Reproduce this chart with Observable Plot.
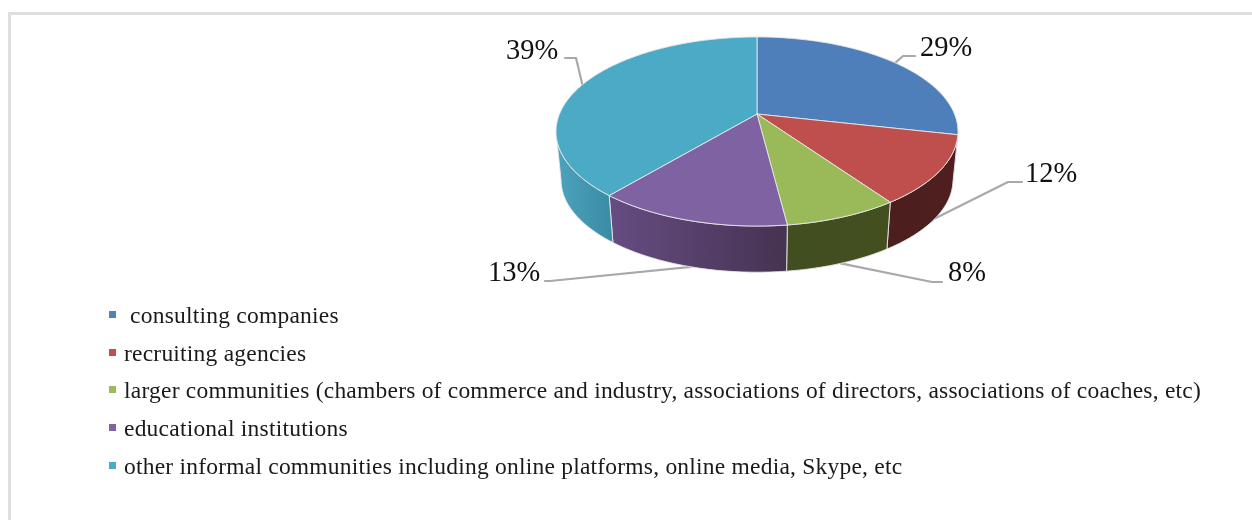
<!DOCTYPE html>
<html>
<head>
<meta charset="utf-8">
<script src="https://cdn.jsdelivr.net/npm/d3@7"></script>
<script src="https://cdn.jsdelivr.net/npm/@observablehq/plot@0.6"></script>
<style>
  html, body { margin: 0; padding: 0; background: #fff; }
  body { width: 1252px; height: 520px; overflow: hidden; position: relative; font-family: "Liberation Serif", serif; }
  #frame { position: absolute; left: 8px; top: 12px; right: -10px; bottom: -10px; border-left: 3px solid #dedede; border-top: 3px solid #dedede; }
  #chart { position: relative; filter: blur(0.35px); }
  #chart svg { display: block; background: transparent; }
  #legend { position: relative; padding-left: 109px; filter: blur(0.35px); }
  .row { height: 37.7px; line-height: 38.7px; font-size: 23.5px; letter-spacing: 0.22px; color: #1a1a1a; white-space: pre; position: relative; padding-left: 15px; }
  .swatch { position: absolute; left: 0; top: 15px; width: 7px; height: 7px; }
</style>
</head>
<body>
<div id="frame"></div>
<div id="chart"></div>
<div id="legend"></div>
<script>
// Data
const categories = [
  " consulting companies",
  "recruiting agencies",
  "larger communities (chambers of commerce and industry, associations of directors, associations of coaches, etc)",
  "educational institutions",
  "other informal communities including online platforms, online media, Skype, etc"
];
const shares = [28.5, 11.8, 7.7, 13.1, 38.9];
const shareLabels = ["29%", "12%", "8%", "13%", "39%"];

// Styles
const topColors = ["#4f7fbb", "#be4f4c", "#9aba59", "#7f62a1", "#4babc6"];
const legendColors = ["#4f81bd", "#c0504d", "#9bbb59", "#8064a2", "#4bacc6"];
const wallStops = [
  ["#2f4d72", "#2f4d72"],
  ["#4b1f1d", "#4e1f1e"],
  ["#414e20", "#444f20"],
  ["#664c82", "#453351"],
  ["#4da3bd", "#3a8ba4"]
];

// Perspective of the disc (units: chart px relative to the pie's hub)
const tilt = {a: 197.5, b: 91.3, k: 0.185, floorScale: 0.975, depth: 49};
const leaderLayout = [
  [[146, -58], [158, -58]],
  [[251, 68], [265, 68]],
  [[175, 168], [185, 168]],
  [[-207, 167], [-212, 167]],
  [[-181, -56], [-192, -56]]
];
const labelLayout = [[189, -67], [294, 59], [210, 158], [-243, 158], [-225, -64]];
const H = 296;

const slices = d3.pie().sort(null)(shares);
const silhouette = Math.PI - Math.acos(tilt.k);   // where the rim turns away from the viewer

function project(theta, floor) {
  const px = Math.sin(theta), py = -Math.cos(theta), d = 1 - tilt.k * py;
  const u = tilt.a * px / d, v = tilt.b * py / d;
  return floor ? [u * tilt.floorScale, v * tilt.floorScale + tilt.depth] : [u, v];
}
function arc(from, to, floor) {
  const n = Math.max(2, Math.ceil(Math.abs(to - from) / (Math.PI / 180)));
  return d3.range(n + 1).map(i => project(from + (to - from) * i / n, floor));
}
const toRow = ([x, y]) => ({x, y});

const topMarks = slices.map((s, i) => {
  const pts = [[0, 0], ...arc(s.startAngle, s.endAngle, false), [0, 0]].map(toRow);
  return Plot.line(pts, {x: "x", y: "y", fill: topColors[i], stroke: "#e8e8e8", strokeWidth: 0.9});
});

const wallMarks = slices.flatMap((s, i) => {
  const a0 = Math.max(s.startAngle, silhouette);
  const a1 = Math.min(s.endAngle, 2 * Math.PI - silhouette);
  if (a1 <= a0) return [];
  const pts = [...arc(a0, a1, false), ...arc(a1, a0, true)];
  pts.push(pts[0]);
  return [Plot.line(pts.map(toRow), {x: "x", y: "y", fill: `url(#wall${i})`, stroke: "#e8e8e8", strokeWidth: 0.9})];
});

const leaderRows = slices.flatMap((s, i) => {
  const mid = (s.startAngle + s.endAngle) / 2;
  const front = Math.cos(mid) < 0 && Math.abs(Math.cos(mid)) > 0.3;
  return [project(mid, front), ...leaderLayout[i]].map(([x, y]) => ({x, y, slice: i}));
});

const labelRows = shareLabels.map((t, i) => ({t, x: labelLayout[i][0], y: labelLayout[i][1]}));

function gradients() {
  const defs = d3.create("svg:defs");
  wallStops.forEach((stops, i) => {
    const g = defs.append("svg:linearGradient").attr("id", `wall${i}`);
    g.append("svg:stop").attr("offset", "0%").attr("stop-color", stops[0]);
    g.append("svg:stop").attr("offset", "100%").attr("stop-color", stops[1]);
  });
  return defs.node();
}

const chart = Plot.plot({
  width: 1252,
  height: H,
  margin: 0,
  x: {domain: [-756.5, 495.5], range: [0, 1252], axis: null},
  y: {domain: [-113.5, H - 113.5], range: [0, H], axis: null},
  marks: [
    gradients,
    Plot.line(leaderRows, {x: "x", y: "y", z: "slice", stroke: "#a9a9a9", strokeWidth: 2.2}),
    ...wallMarks,
    ...topMarks,
    Plot.text(labelRows, {x: "x", y: "y", text: "t", fontSize: 28.5, fontFamily: "Liberation Serif", fill: "#111", textAnchor: "middle", lineAnchor: "middle"})
  ]
});
document.getElementById("chart").append(chart);

const legend = d3.select("#legend");
categories.forEach((c, i) => {
  const row = legend.append("div").attr("class", "row");
  row.append("span").attr("class", "swatch").style("background", legendColors[i]);
  row.append("span").text(c);
});
</script>
</body>
</html>
